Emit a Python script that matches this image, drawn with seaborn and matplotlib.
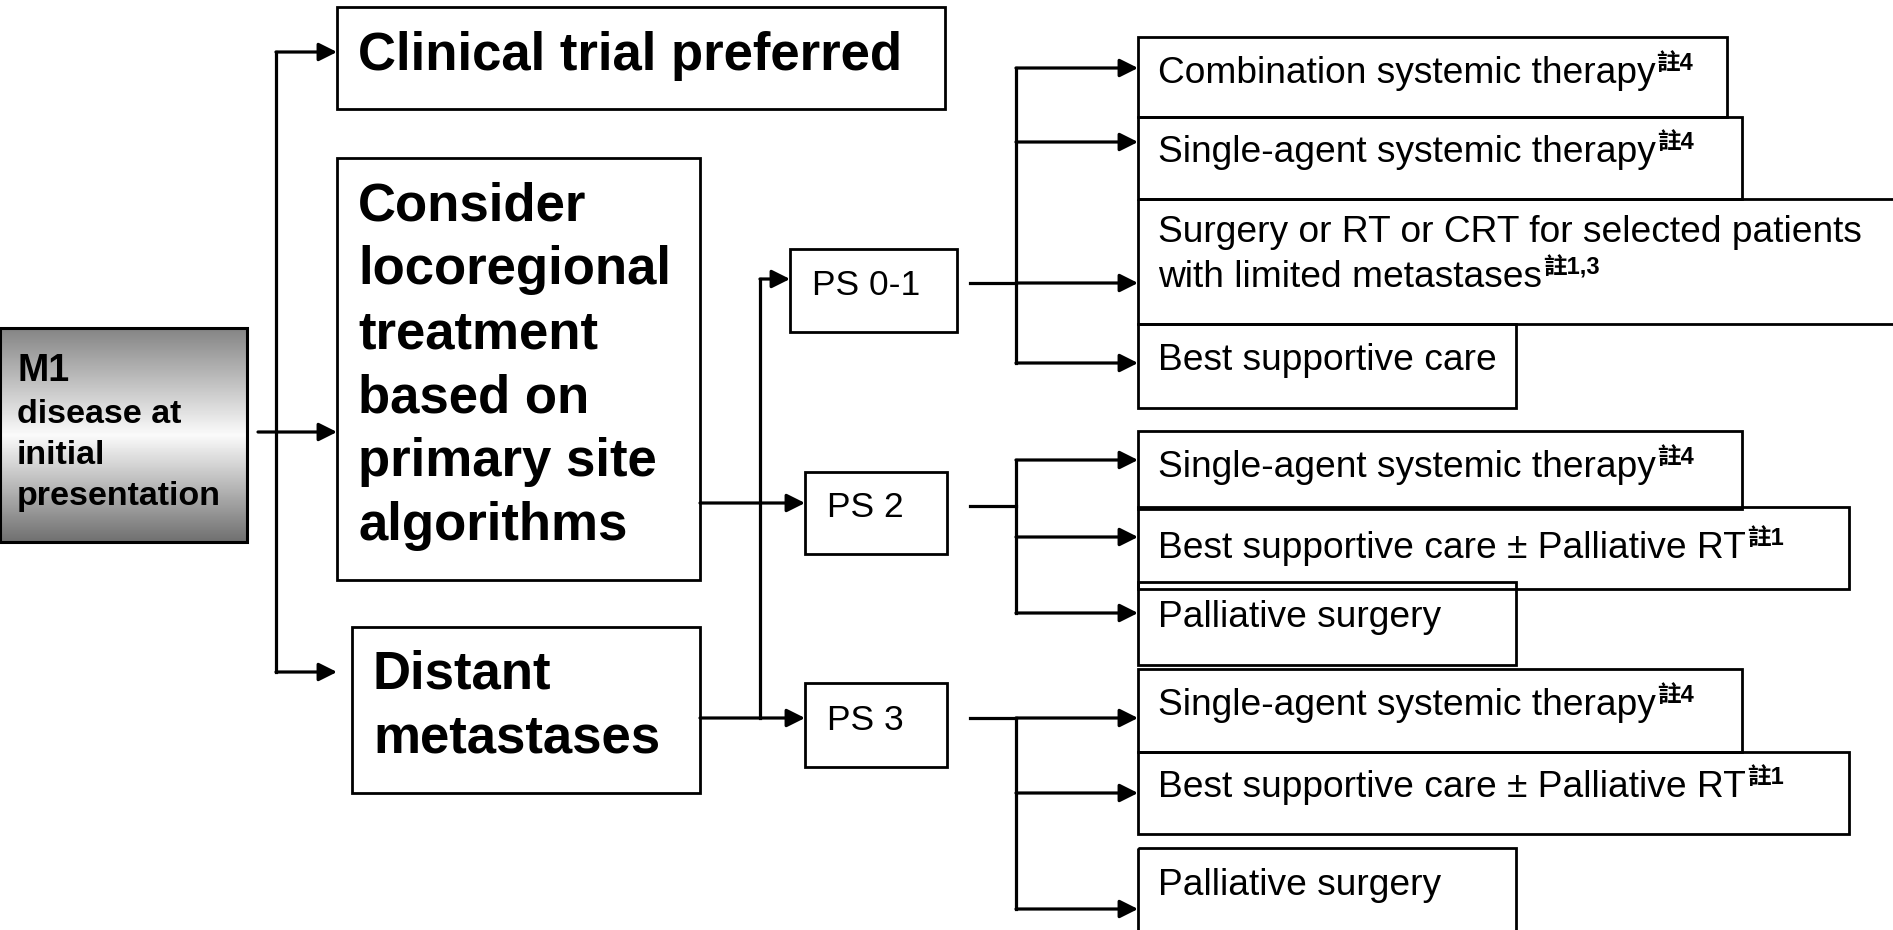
import numpy as np
import matplotlib
matplotlib.use("Agg")
import matplotlib.pyplot as plt
import seaborn as sns
from matplotlib.patches import Rectangle
from matplotlib.colors import LinearSegmentedColormap

sns.set_theme(style="white")
plt.rcParams['font.family'] = ['Liberation Sans', 'Noto Sans CJK TC', 'DejaVu Sans']

# --- text content of the flowchart ---
m1_lines = ["M1", "disease at", "initial", "presentation"]
clinical_label = "Clinical trial preferred"
consider_lines = ["Consider", "locoregional", "treatment", "based on", "primary site", "algorithms"]
distant_lines = ["Distant", "metastases"]
ps_labels = ["PS 0-1", "PS 2", "PS 3"]

option_lines = [
    ["Combination systemic therapy"],
    ["Single-agent systemic therapy"],
    ["Surgery or RT or CRT for selected patients", "with limited metastases"],
    ["Best supportive care"],
    ["Single-agent systemic therapy"],
    ["Best supportive care \u00b1 Palliative RT"],
    ["Palliative surgery"],
    ["Single-agent systemic therapy"],
    ["Best supportive care \u00b1 Palliative RT"],
    ["Palliative surgery"],
]
option_notes = ["註4", "註4", "註1,3", "", "註4", "註1", "", "註4", "註1", ""]

# --- layout (pixels, y down) ---
W, H = 1893, 930
box_m1 = (0, 328, 247, 542)
box_clin = (337, 7, 945, 109)
box_cons = (337, 158, 700, 580)
box_dist = (352, 627, 700, 793)
ps_boxes = [(790, 249, 957, 332), (805, 472, 947, 554), (805, 683, 947, 767)]
ps_text_xy = [(812, 295), (827, 517), (827, 730)]

opt_left = 1138
opt_top = [37, 117, 199, 324, 431, 507, 582, 669, 752, 848]
opt_bottom = [117, 199, 324, 408, 509, 589, 665, 752, 834, 945]
opt_right = [1727, 1742, 1960, 1516, 1742, 1849, 1516, 1742, 1849, 1516]
opt_base = [[83], [162], [242, 287], [370], [477], [558], [627], [715], [797], [895]]
opt_arrow_y = [68, 142, 283, 363, 460, 537, 613, 718, 793, 909]

fig = plt.figure(figsize=(W / 100, H / 100), dpi=100)
ax = fig.add_axes([0, 0, 1, 1])
ax.set_xlim(0, W)
ax.set_ylim(H, 0)
ax.axis('off')

LW = 2.3


def box(b, lw=2.0, z=2):
    x0, y0, x1, y1 = b
    ax.add_patch(Rectangle((x0, y0), x1 - x0, y1 - y0, fill=False,
                           edgecolor='black', lw=lw, zorder=z))


def put(x, y, s, size, bold=False):
    return ax.text(x, y, s, fontsize=size, fontweight='bold' if bold else 'normal',
                   ha='left', va='baseline', color='black', zorder=5)


def line(xs, ys):
    ax.plot(xs, ys, color='black', lw=LW, solid_capstyle='projecting', zorder=3)


def arrow(x0, y, x1):
    ax.annotate('', xy=(x1, y), xytext=(x0, y),
                arrowprops=dict(arrowstyle='-|>,head_length=1.1,head_width=0.55',
                                lw=LW, color='black', shrinkA=0, shrinkB=0,
                                mutation_scale=10), zorder=3)


# M1 box with vertical grey gradient
grad = LinearSegmentedColormap.from_list(
    'm1', [(0.0, '#858585'), (0.5, '#fbfbfb'), (1.0, '#707070')])
x0, y0, x1, y1 = box_m1
ax.imshow(np.linspace(0, 1, 200).reshape(-1, 1), cmap=grad, aspect='auto',
          extent=(x0, x1, y1, y0), zorder=1)
box(box_m1, lw=2.2)
put(17, 381, m1_lines[0], 27, bold=True)
for s, yb in zip(m1_lines[1:], [423, 464, 505]):
    put(17, yb, s, 24.5, bold=True)

# level-1 boxes
box(box_clin)
put(358, 70, clinical_label, 38, bold=True)
box(box_cons)
for i, s in enumerate(consider_lines):
    put(358, 220 + 64 * i, s, 38, bold=True)
box(box_dist)
for i, s in enumerate(distant_lines):
    put(373, 688 + 64 * i, s, 38, bold=True)

# PS boxes
for b, (tx, ty), s in zip(ps_boxes, ps_text_xy, ps_labels):
    box(b)
    put(tx, ty, s, 25.5)

# left connectors
line([276, 276], [52, 672])
arrow(276, 52, 337)
arrow(258, 432, 337)
arrow(276, 672, 337)

line([760, 760], [279, 718])
arrow(760, 279, 790)
arrow(700, 503, 805)
arrow(700, 718, 805)

# right connectors
line([970, 1016], [283, 283])
line([1016, 1016], [68, 363])
line([970, 1016], [506, 506])
line([1016, 1016], [460, 613])
line([970, 1016], [718, 718])
line([1016, 1016], [718, 909])
for y in opt_arrow_y:
    arrow(1016, y, 1138)

# option boxes and text
renderer = fig.canvas.get_renderer()
inv = ax.transData.inverted()
for i in range(len(option_lines)):
    box((opt_left, opt_top[i], opt_right[i], opt_bottom[i]))
    last = None
    for s, yb in zip(option_lines[i], opt_base[i]):
        last = put(1158, yb, s, 26.7)
    if option_notes[i]:
        bb = last.get_window_extent(renderer)
        xr = inv.transform((bb.x1, 0))[0]
        put(xr + 1, opt_base[i][-1] - 13, option_notes[i], 17, bold=True)

fig.savefig('out.png', dpi=100, facecolor='white')
